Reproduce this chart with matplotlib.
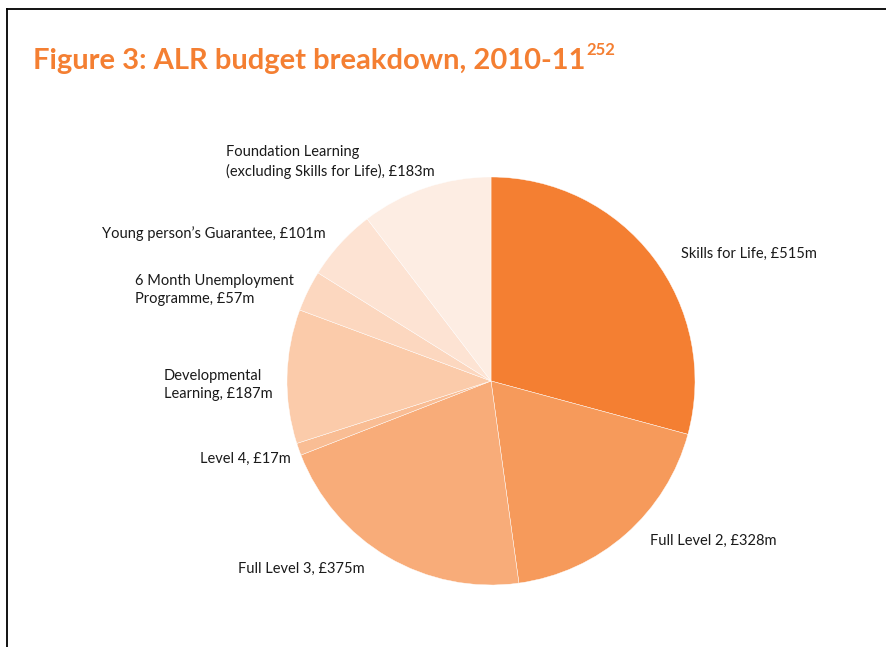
import matplotlib
matplotlib.use('Agg')
import matplotlib.pyplot as plt

# ALR budget 2010-11, £m
categories = ['Skills for Life', 'Full Level 2', 'Full Level 3', 'Level 4',
              'Developmental\nLearning', '6 Month Unemployment\nProgramme',
              'Young person\u2019s Guarantee',
              'Foundation Learning\n(excluding Skills for Life)']
budget = [515, 328, 375, 17, 187, 57, 101, 183]

colours = ['#F47F32', '#F69A5B', '#F8AC79', '#F9BD94',
           '#FBCBAA', '#FCD7BF', '#FDE3D3', '#FDEDE3']

# label anchors in pixel space (left edge, vertical centre)
label_pos = [(681, 254), (650, 541), (238, 569), (200, 459),
             (164, 385), (135, 290), (102, 234), (226, 162)]

W, H = 887, 647
plt.rcParams['font.family'] = ['Lato', 'DejaVu Sans']

fig = plt.figure(figsize=(W / 100, H / 100), dpi=100)
ax = fig.add_axes([0, 0, 1, 1])

# page border (top and left)
ax.plot([7, W], [H - 9, H - 9], color='black', lw=1.3)
ax.plot([7, 7], [H - 9, 0], color='black', lw=1.3)

ax.pie(budget, colors=colours, startangle=90, counterclock=False,
       center=(491, H - 381), radius=204, frame=True,
       wedgeprops={'edgecolor': 'white', 'linewidth': 0.3})
ax.set_xlim(0, W)
ax.set_ylim(0, H)
ax.set_aspect('equal')
ax.axis('off')

for name, val, (px, py) in zip(categories, budget, label_pos):
    ax.text(px, H - py, name + ', \u00a3' + str(val) + 'm', ha='left', va='center',
            fontsize=10.5, color='#1a1a1a', linespacing=1.35)

title = ax.text(33, H - 61, 'Figure 3: ALR budget breakdown, 2010-11',
                ha='left', va='center', fontsize=21, fontweight='bold', color='#F47F32')

# footnote number as a small raised suffix
fig.canvas.draw()
bb = title.get_window_extent()
ax.text(bb.x1 + 1, H - 50, '252', ha='left', va='center',
        fontsize=12, fontweight='bold', color='#F47F32')

fig.savefig('out.png', dpi=100)
